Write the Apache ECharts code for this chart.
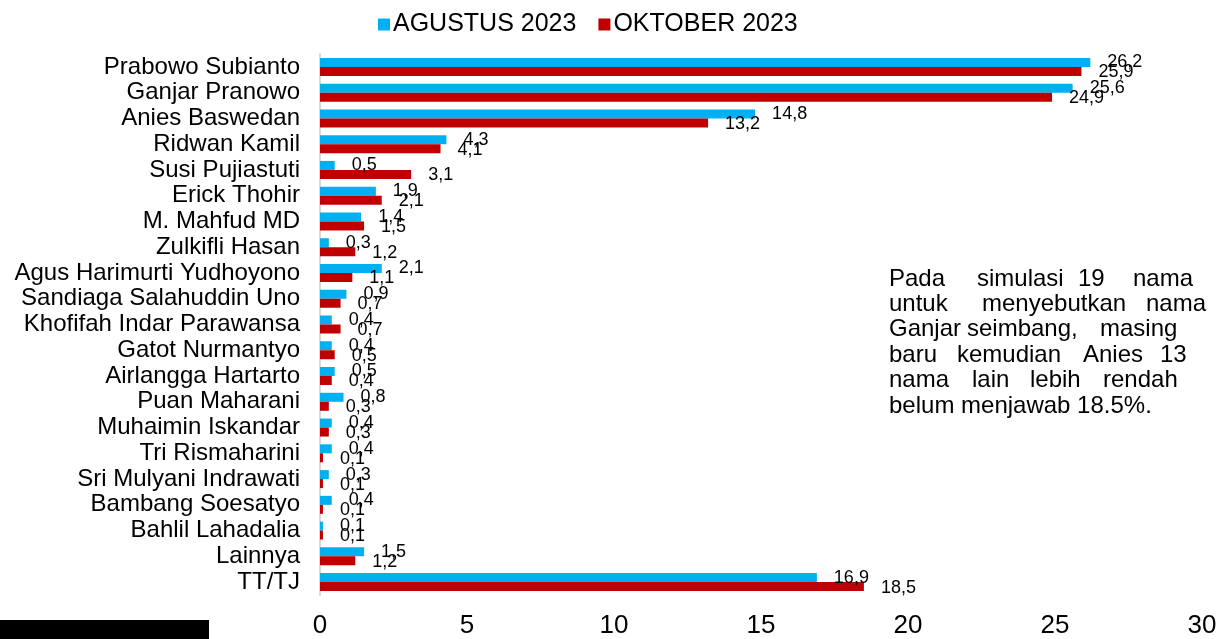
<!DOCTYPE html>
<html>
<head>
<meta charset="utf-8">
<script src="https://cdn.jsdelivr.net/npm/echarts@6/dist/echarts.min.js"></script>
<style>
  html, body { margin: 0; padding: 0; background: #fff; }
  #chart { width: 1220px; height: 639px; }
</style>
</head>
<body>
<div id="chart"></div>
<script>
// kandidat, urut dari atas
const categories = [
  'Prabowo Subianto', 'Ganjar Pranowo', 'Anies Baswedan', 'Ridwan Kamil',
  'Susi Pujiastuti', 'Erick Thohir', 'M. Mahfud MD', 'Zulkifli Hasan',
  'Agus Harimurti Yudhoyono', 'Sandiaga Salahuddin Uno', 'Khofifah Indar Parawansa',
  'Gatot Nurmantyo', 'Airlangga Hartarto', 'Puan Maharani', 'Muhaimin Iskandar',
  'Tri Rismaharini', 'Sri Mulyani Indrawati', 'Bambang Soesatyo', 'Bahlil Lahadalia',
  'Lainnya', 'TT/TJ'
];
const agustus = [26.2, 25.6, 14.8, 4.3, 0.5, 1.9, 1.4, 0.3, 2.1, 0.9, 0.4, 0.4, 0.5, 0.8, 0.4, 0.4, 0.3, 0.4, 0.1, 1.5, 16.9];
const oktober = [25.9, 24.9, 13.2, 4.1, 3.1, 2.1, 1.5, 1.2, 1.1, 0.7, 0.7, 0.5, 0.4, 0.3, 0.3, 0.1, 0.1, 0.1, 0.1, 1.2, 18.5];
const xTicks = { min: 0, max: 30, interval: 5 };

// teks catatan di kanan (terpotong di tepi)
const noteLines = [
  ['Pada', 'simulasi', '19', 'nama'],
  ['untuk', 'menyebutkan', 'nama'],
  ['Ganjar', 'seimbang,', 'masing'],
  ['baru', 'kemudian', 'Anies', '13'],
  ['nama', 'lain', 'lebih', 'rendah'],
  ['belum menjawab 18.5%.']
];

const FONT = 'Liberation Sans, Arial, sans-serif';
const fmt = (p) => String(p.value).replace('.', ',');

// posisi kata (rata kiri-kanan)
const wordX = [
  [889, 977, 1078, 1133],
  [889, 982, 1146],
  [889, 967, 1100],
  [889, 957, 1083, 1160],
  [889, 972, 1030, 1103],
  [889]
];
let noteGraphics = [];
noteLines.forEach((line, i) => {
  line.forEach((w, j) => {
    noteGraphics.push({
      type: 'text',
      left: wordX[i][j],
      top: 267 + i * 25.4,
      style: { text: w, font: '24px ' + FONT, fill: '#000' }
    });
  });
});

let chart = echarts.init(document.getElementById('chart'));
let option = {
  animation: false,
  textStyle: { fontFamily: FONT },
  legend: {
    top: 7,
    left: 373,
    itemWidth: 12,
    itemHeight: 12,
    itemGap: 22,
    icon: 'rect',
    textStyle: { fontSize: 25, color: '#000', fontFamily: FONT, padding: [0, 0, 0, -2] },
    data: ['AGUSTUS 2023', 'OKTOBER 2023']
  },
  grid: { left: 320, right: 18, top: 54, bottom: 44 },
  xAxis: {
    type: 'value',
    min: xTicks.min,
    max: xTicks.max,
    interval: xTicks.interval,
    axisLine: { show: false },
    axisTick: { show: false },
    splitLine: { show: false },
    axisLabel: { fontSize: 26, color: '#000', margin: 18, fontFamily: FONT }
  },
  yAxis: {
    type: 'category',
    inverse: true,
    data: categories,
    axisLine: { show: true, lineStyle: { color: '#D9D9D9', width: 2 } },
    axisTick: { show: false },
    axisLabel: { interval: 0, fontSize: 24, color: '#000', margin: 20, fontFamily: FONT }
  },
  series: [
    {
      name: 'AGUSTUS 2023',
      type: 'bar',
      barWidth: 9,
      barGap: '0%',
      itemStyle: { color: '#00B0F0' },
      label: {
        show: true, position: 'right', distance: 17, offset: [0, 0],
        fontSize: 18, color: '#000', fontFamily: FONT, formatter: fmt
      },
      data: agustus
    },
    {
      name: 'OKTOBER 2023',
      type: 'bar',
      barWidth: 9,
      barGap: '0%',
      itemStyle: { color: '#C00000' },
      label: {
        show: true, position: 'right', distance: 17, offset: [0, 1],
        fontSize: 18, color: '#000', fontFamily: FONT, formatter: fmt
      },
      data: oktober
    }
  ],
  graphic: [
    { type: 'rect', left: 0, top: 620, shape: { width: 209, height: 19 }, style: { fill: '#000' } }
  ].concat(noteGraphics)
};
chart.setOption(option);
</script>
</body>
</html>
